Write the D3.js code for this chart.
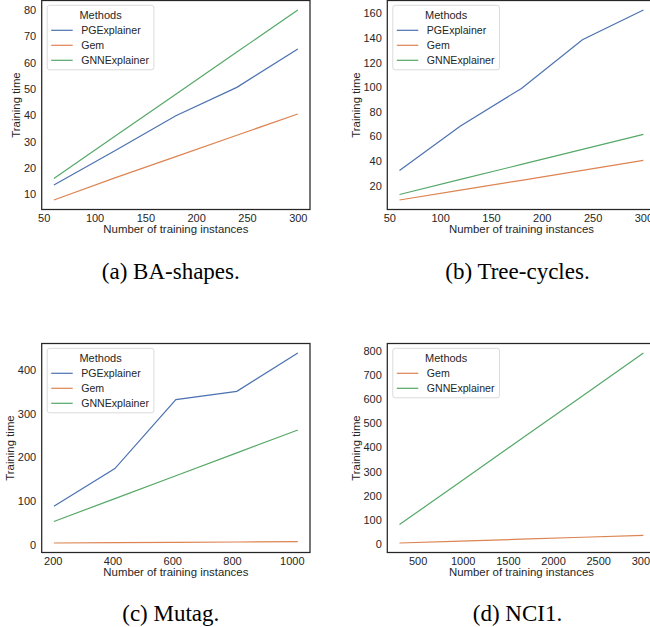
<!DOCTYPE html>
<html>
<head>
<meta charset="utf-8">
<script src="https://cdn.jsdelivr.net/npm/d3@7"></script>
<style>
  body { margin: 0; background: #fff; }
  svg { display: block; }
  text { font-family: "Liberation Sans", Arial, sans-serif; fill: #262626; }
  .caption { font-family: "Liberation Serif", "Times New Roman", serif; fill: #000; }
</style>
</head>
<body>
<svg id="fig" width="650" height="627"></svg>
<script>
// methods and colours (seaborn "deep")
const methods = ['PGExplainer', 'Gem', 'GNNExplainer']
const colors = { PGExplainer: '#4c72b0', Gem: '#dd8452', GNNExplainer: '#55a868' }

// (a) BA-shapes
const xA = [60, 120, 180, 240, 300]
const pgA = [13.5, 26.5, 39.8, 50.6, 65.2]
const gemA = [7.8, 16.2, 24.3, 32.4, 40.5]
const gnnA = [16, 32, 48, 64, 80]
const xTicksA = [50, 100, 150, 200, 250, 300]
const yTicksA = [10, 20, 30, 40, 50, 60, 70, 80]

// (b) Tree-cycles
const xB = [60, 120, 180, 240, 300]
const pgB = [32.2, 68.5, 99, 138.5, 162.7]
const gemB = [8.3, 16.3, 24.3, 32.4, 40.5]
const gnnB = [12.8, 25, 37.2, 49.4, 61.6]
const xTicksB = [50, 100, 150, 200, 250, 300]
const yTicksB = [20, 40, 60, 80, 100, 120, 140, 160]

// (c) Mutag
const xC = [204, 408, 612, 816, 1020]
const pgC = [87.7, 174.5, 333, 352, 440]
const gemC = [3.5, 4.3, 5, 5.8, 6.6]
const gnnC = [53, 105.5, 158, 210.5, 263]
const xTicksC = [200, 400, 600, 800, 1000]
const yTicksC = [0, 100, 200, 300, 400]

// (d) NCI1 (no PGExplainer)
const xD = [300, 975, 1650, 2325, 3000]
const gemD = [5.4, 13.3, 21.2, 29.1, 37]
const gnnD = [81.5, 258.6, 435.8, 612.9, 790]
const xTicksD = [500, 1000, 1500, 2000, 2500, 3000]
const yTicksD = [0, 100, 200, 300, 400, 500, 600, 700, 800]

const captions = ['(a) BA-shapes.', '(b) Tree-cycles.', '(c) Mutag.', '(d) NCI1.']

const svg = d3.select('#fig')
const W = 268.3, H = 209

// matplotlib style 5% margins
function padded(vals) {
  const [lo, hi] = d3.extent(vals)
  const m = (hi - lo) * 0.05
  return [lo - m, hi + m]
}

function drawPanel(cfg) {
  const { left, top, xs, series, xTicks, yTicks } = cfg
  const g = svg.append('g').attr('transform', `translate(${left},${top})`)

  const x = d3.scaleLinear().domain(padded(xs)).range([0, W])
  const y = d3.scaleLinear()
    .domain(padded(series.flatMap(s => s.values)))
    .range([H, 0])

  const line = d3.line()
    .x((d, i) => x(xs[i]))
    .y(d => y(d))

  g.selectAll('path.series')
    .data(series)
    .enter().append('path')
    .attr('class', 'series')
    .attr('d', d => line(d.values))
    .attr('fill', 'none')
    .attr('stroke', d => colors[d.name])
    .attr('stroke-width', 1.2)

  // axes: no tick marks, labels only
  const xAxis = g.append('g')
    .attr('transform', `translate(0,${H})`)
    .call(d3.axisBottom(x).tickValues(xTicks).tickSize(0).tickPadding(5).tickFormat(d3.format('d')))
  const yAxis = g.append('g')
    .call(d3.axisLeft(y).tickValues(yTicks).tickSize(0).tickPadding(5.5).tickFormat(d3.format('d')))
  ;[xAxis, yAxis].forEach(a => {
    a.select('.domain').remove()
    a.selectAll('text').attr('font-size', 11).style('fill', '#262626')
      .attr('font-family', '"Liberation Sans", Arial, sans-serif')
  })

  g.append('rect')
    .attr('width', W).attr('height', H)
    .attr('fill', 'none')
    .attr('stroke', '#262626')
    .attr('stroke-width', 1.25)

  g.append('text')
    .attr('x', W / 2)
    .attr('y', H + 23.5)
    .attr('text-anchor', 'middle')
    .attr('font-size', 11.4)
    .text('Number of training instances')

  const tickW = d3.max(yAxis.selectAll('text').nodes(), n => n.getComputedTextLength())
  g.append('text')
    .attr('transform', `translate(${-5.5 - tickW - 3.5},${H / 2}) rotate(-90)`)
    .attr('text-anchor', 'middle')
    .attr('font-size', 11.4)
    .text('Training time')

  // legend
  const leg = g.append('g').attr('transform', 'translate(5.5,4.8)')
  const box = leg.append('rect')
    .attr('rx', 2.5)
    .attr('fill', '#fff').attr('fill-opacity', 0.8)
    .attr('stroke', '#d6d6d6').attr('stroke-width', 0.9)
  const rows = leg.selectAll('g.row')
    .data(series)
    .enter().append('g')
    .attr('class', 'row')
    .attr('transform', (d, i) => `translate(0,${25 + i * 15})`)
  rows.append('line')
    .attr('x1', 4).attr('x2', 25.5)
    .attr('stroke', d => colors[d.name])
    .attr('stroke-width', 1.2)
  const labels = rows.append('text')
    .attr('x', 34)
    .attr('dy', '0.35em')
    .attr('font-size', 10.6)
    .text(d => d.name)
  const bw = 34 + d3.max(labels.nodes(), n => n.getComputedTextLength()) + 5
  box.attr('width', bw).attr('height', 19.5 + series.length * 15)
  leg.append('text')
    .attr('x', bw / 2)
    .attr('y', 9.5)
    .attr('dy', '0.35em')
    .attr('text-anchor', 'middle')
    .attr('font-size', 11)
    .text('Methods')
}

const panels = [
  { left: 41.7, top: 0.5, xs: xA, xTicks: xTicksA, yTicks: yTicksA,
    series: [{ name: methods[0], values: pgA }, { name: methods[1], values: gemA }, { name: methods[2], values: gnnA }] },
  { left: 387.3, top: 0.5, xs: xB, xTicks: xTicksB, yTicks: yTicksB,
    series: [{ name: methods[0], values: pgB }, { name: methods[1], values: gemB }, { name: methods[2], values: gnnB }] },
  { left: 41.7, top: 343.5, xs: xC, xTicks: xTicksC, yTicks: yTicksC,
    series: [{ name: methods[0], values: pgC }, { name: methods[1], values: gemC }, { name: methods[2], values: gnnC }] },
  { left: 387.3, top: 343.5, xs: xD, xTicks: xTicksD, yTicks: yTicksD,
    series: [{ name: methods[1], values: gemD }, { name: methods[2], values: gnnD }] }
]
panels.forEach(drawPanel)

// sub-figure captions
const capPos = [[170.8, 279], [517.5, 279], [170.8, 620.5], [517.5, 620.5]]
svg.selectAll('text.caption')
  .data(captions)
  .enter().append('text')
  .attr('class', 'caption')
  .attr('x', (d, i) => capPos[i][0])
  .attr('y', (d, i) => capPos[i][1])
  .attr('text-anchor', 'middle')
  .attr('font-size', 23)
  .text(d => d)
</script>
</body>
</html>
